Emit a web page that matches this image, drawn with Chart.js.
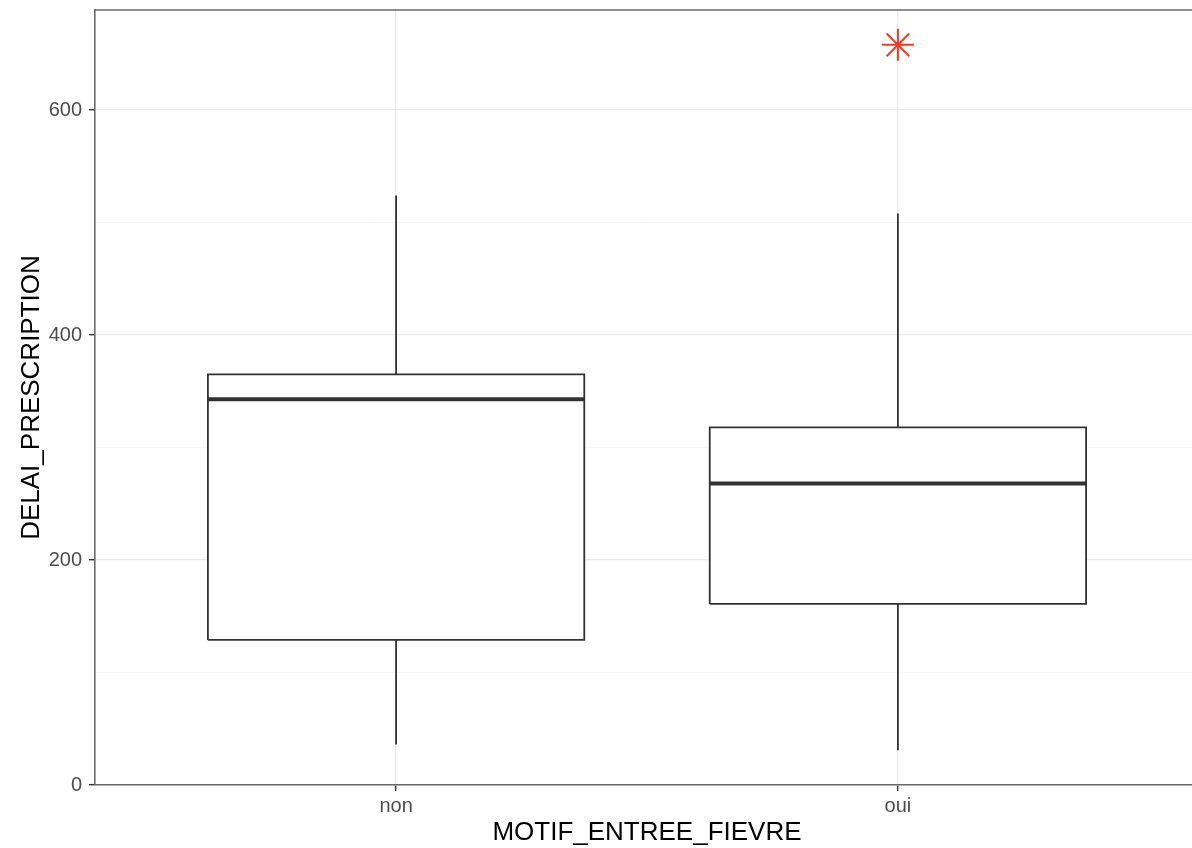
<!DOCTYPE html>
<html><head><meta charset="utf-8">
<script src="https://cdn.jsdelivr.net/npm/chart.js@4.4.1/dist/chart.umd.min.js"></script>
<style>html,body{margin:0;padding:0;background:#fff;overflow:hidden;width:1192px;height:848px}#c{display:block}</style>
</head><body><canvas id="c" width="1199" height="848"></canvas>
<script>
const categories = ['non', 'oui'];
const whiskerLow = [36, 31];
const q1 = [129, 161];
const median = [343, 268];
const q3 = [365, 318];
const whiskerHigh = [524, 508];
const outliers = [[], [658]];
const yMajorTicks = [0, 200, 400, 600];

const BOX_HALF = 0.375;
const LINE = '#333333';
const datasets = [];
categories.forEach((cat, i) => {
  const xc = i + 1;
  datasets.push({
    label: cat + ' whisker low', data: [{x: xc, y: whiskerLow[i]}, {x: xc, y: q1[i]}],
    showLine: true, borderColor: LINE, borderWidth: 1.8, pointRadius: 0, fill: false
  });
  datasets.push({
    label: cat + ' whisker high', data: [{x: xc, y: q3[i]}, {x: xc, y: whiskerHigh[i]}],
    showLine: true, borderColor: LINE, borderWidth: 1.8, pointRadius: 0, fill: false
  });
  datasets.push({
    label: cat + ' box', data: [
      {x: xc - BOX_HALF, y: q1[i]}, {x: xc + BOX_HALF, y: q1[i]},
      {x: xc + BOX_HALF, y: q3[i]}, {x: xc - BOX_HALF, y: q3[i]},
      {x: xc - BOX_HALF, y: q1[i]}],
    showLine: true, borderColor: LINE, borderWidth: 1.8, pointRadius: 0,
    fill: 'shape', backgroundColor: '#ffffff', tension: 0, borderJoinStyle: 'miter'
  });
  datasets.push({
    label: cat + ' median', data: [{x: xc - BOX_HALF, y: median[i]}, {x: xc + BOX_HALF, y: median[i]}],
    showLine: true, borderColor: LINE, borderWidth: 4, pointRadius: 0, fill: false, borderCapStyle: 'butt'
  });
  if (outliers[i].length) {
    datasets.push({
      label: cat + ' outliers', data: outliers[i].map(v => ({x: xc, y: v})),
      showLine: false, pointStyle: 'star', pointRadius: 16, pointBorderWidth: 2,
      borderColor: '#f43b22', backgroundColor: '#f43b22', pointHoverRadius: 16
    });
  }
});

const BORDER = '#6a6a6a';
const topBorder = {
  id: 'topBorder',
  afterDraw(chart) {
    const {ctx, chartArea} = chart;
    ctx.save();
    ctx.strokeStyle = BORDER; ctx.lineWidth = 1.6;
    ctx.beginPath();
    ctx.moveTo(chartArea.left, chartArea.top); ctx.lineTo(chartArea.right, chartArea.top);
    ctx.stroke();
    ctx.restore();
  }
};

const FONT = 'Liberation Sans';
new Chart(document.getElementById('c'), {
  type: 'scatter',
  data: {datasets},
  plugins: [topBorder],
  options: {
    responsive: false, animation: false,
    layout: {autoPadding: false, padding: {top: 10, left: 0, right: 0, bottom: 0}},
    plugins: {legend: {display: false}, tooltip: {enabled: false}, filler: {drawTime: 'beforeDatasetsDraw'}},
    scales: {
      x: {
        type: 'linear', min: 0.4, max: 2.6,
        afterBuildTicks: s => { s.ticks = categories.map((c, i) => ({value: i + 1})); },
        afterFit: s => { s.height = 63; s.paddingLeft = 0; s.paddingRight = 0; },
        ticks: {
          callback: v => categories[Math.round(v) - 1] ?? '',
          color: '#4d4d4d', font: {family: FONT, size: 20}, padding: 3, maxRotation: 0
        },
        grid: {color: '#ebebeb', lineWidth: 1.3, tickLength: 6, tickColor: '#333333', tickWidth: 1.5},
        border: {display: true, color: BORDER, width: 1.6},
        title: {display: true, text: 'MOTIF_ENTREE_FIEVRE', color: '#000', font: {family: FONT, size: 26}, padding: {top: 0, bottom: 0}}
      },
      y: {
        type: 'linear', min: 0, max: 689,
        afterFit: s => { s.width = 95; s.paddingTop = 0; s.paddingBottom = 0; },
        ticks: {
          stepSize: 100, includeBounds: false,
          callback: v => yMajorTicks.includes(v) ? String(v) : '',
          color: '#4d4d4d', font: {family: FONT, size: 20}, padding: 7
        },
        grid: {
          color: c => (c.tick && yMajorTicks.includes(c.tick.value)) ? '#ebebeb' : '#f4f4f4',
          lineWidth: c => (c.tick && yMajorTicks.includes(c.tick.value)) ? 1.3 : 0.8,
          tickLength: 6,
          tickColor: c => (c.tick && yMajorTicks.includes(c.tick.value)) ? '#333333' : 'rgba(0,0,0,0)',
          tickWidth: 1.5
        },
        border: {display: true, color: BORDER, width: 1.6},
        title: {display: true, text: 'DELAI_PRESCRIPTION', color: '#000', font: {family: FONT, size: 26}, padding: {top: 16, bottom: 0}}
      }
    }
  }
});
</script></body></html>
